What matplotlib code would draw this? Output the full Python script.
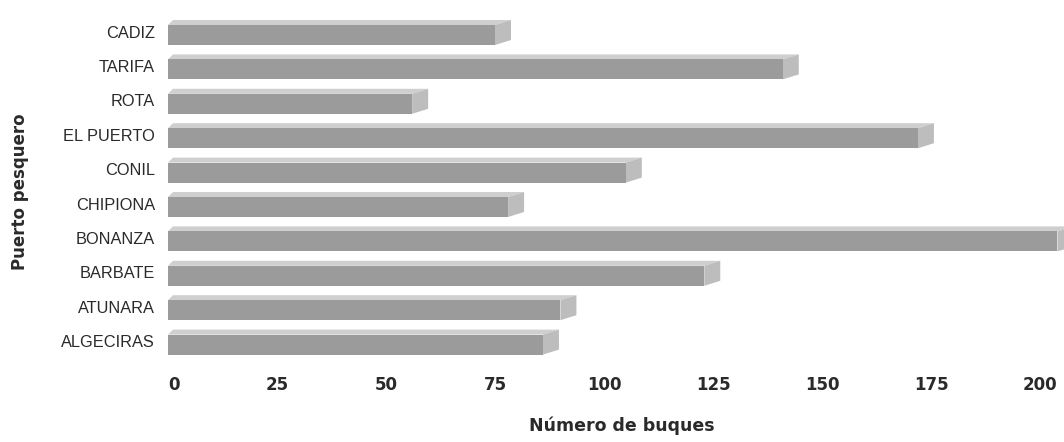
import numpy as np
import matplotlib
matplotlib.use('Agg')
from matplotlib import pyplot as plt
from matplotlib.patches import Polygon, Rectangle

# data (top to bottom)
puertos = ['CADIZ', 'TARIFA', 'ROTA', 'EL PUERTO', 'CONIL', 'CHIPIONA',
           'BONANZA', 'BARBATE', 'ATUNARA', 'ALGECIRAS']
buques = [75, 141, 56, 172, 105, 78, 204, 123, 90, 86]
xticks = [0, 25, 50, 75, 100, 125, 150, 175, 200]

W, H = 1064, 442
fig = plt.figure(figsize=(W/100., H/100.), dpi=100)
# axes placed in pixels: x 168..1064, y 10..365
ax = fig.add_axes([168./W, 1-365./H, (W-168.)/W, 355./H])
ax.set_xlim(0, (W-168.)/4.36)
y0, dy_row = 35., 34.4
ax.set_ylim((365-y0)/dy_row, (10-y0)/dy_row)

pxx = 1/4.36      # one pixel in x data units
pxy = 1/dy_row    # one pixel in y data units
h = 20*pxy        # front face height
dep_y = 5*pxy
dxl, dxr = 5*pxx, 16*pxx

front = '#9b9b9b'
top = '#cfcfcf'
side = '#bdbdbd'
for i, v in enumerate(buques):
    t, b = i-h/2, i+h/2
    ax.add_patch(Rectangle((0, t), v, h, facecolor=front, edgecolor='none', zorder=3))
    ax.add_patch(Polygon([(0, t), (dxl, t-dep_y), (v+dxr, t-dep_y), (v, t)],
                         closed=True, facecolor=top, edgecolor='none', zorder=2))
    ax.add_patch(Polygon([(v, t), (v+dxr, t-dep_y), (v+dxr, b-dep_y), (v, b)],
                         closed=True, facecolor=side, edgecolor='none', zorder=2))

for s in ax.spines.values():
    s.set_visible(False)
ax.set_xticks([])
ax.set_yticks([])

narrow = ['Liberation Sans Narrow', 'Liberation Sans', 'DejaVu Sans']
for i, p in enumerate(puertos):
    fig.text(155./W, 1-(y0+dy_row*i-2)/H, p, ha='right', va='center',
             fontsize=11.8, family=narrow, color='#2a2a2a')

for v in xticks:
    xp = 168 + v*4.36 + (6 if v == 0 else 0)
    fig.text(xp/W, 1-385./H, str(v), ha='center', va='center',
             fontsize=12, fontweight='bold', family=['DejaVu Sans'], color='#2a2a2a')

fig.text(622./W, 1-426./H, 'Número de buques', ha='center', va='center',
         fontsize=12.5, fontweight='bold', color='#2a2a2a')
fig.text(20./W, 1-192./H, 'Puerto pesquero', ha='center', va='center',
         rotation=90, fontsize=12, fontweight='bold', color='#2a2a2a')

fig.savefig('out.png', dpi=100)
